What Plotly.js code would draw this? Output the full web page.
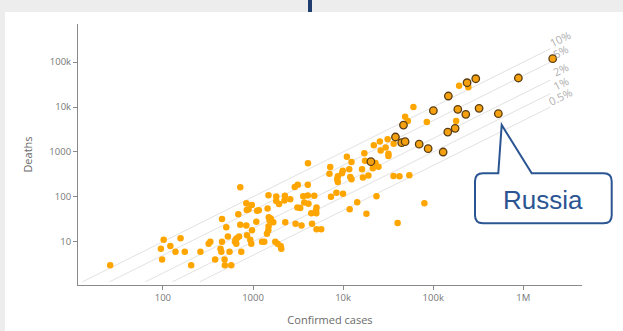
<!DOCTYPE html>
<html>
<head>
<meta charset="utf-8">
<script src="https://cdn.plot.ly/plotly-3.0.1.min.js"></script>
<style>
  html, body { margin: 0; padding: 0; background: #ffffff; }
  #chart { width: 623px; height: 331px; }
</style>
</head>
<body>
<div id="chart"></div>
<script>
// ---- Data ----
const cases = [
  26, 102, 157, 95, 121, 138, 175, 98, 206, 261, 322, 336, 380, 453, 505, 453, 436, 445, 526, 549,
  484, 487, 574, 722, 843, 970, 687, 853, 893, 1107, 1159, 722, 843, 1088, 975, 858, 700, 661, 641, 631,
  653, 957, 741, 933, 1259, 1334, 1766, 1874, 2025, 2060, 1429, 1489, 1479, 1497, 1575, 1528, 1679, 2280, 2965, 3456,
  4520, 5070, 5715, 1452, 1486, 1812, 2258, 1812, 1946, 2233, 2591, 3613, 4055, 4786, 3707, 4125, 3110, 3342, 5070, 5010,
  5040, 4430, 3140, 2905, 4055, 4075, 7194, 7047, 8430, 9980, 7330, 11830, 14330, 23450, 18150, 40270, 11010, 12390, 11690, 9910,
  9710, 8740, 8600, 8740, 12000, 12390, 16600, 19070, 17200, 17500, 22860, 24680, 21380, 16220, 36220, 42200, 54300, 79800, 21930, 25560,
  31220, 36390, 29660, 26120, 31840, 31840, 60250, 48740, 52240, 84900, 179500, 193800, 245500
];
const deaths = [
  3, 11, 12, 7, 8, 6, 6, 4, 3, 6, 9, 10, 4, 32, 21, 10, 7, 6, 13, 6,
  4, 3, 3, 163, 72, 66, 41, 51, 53, 49, 50, 24, 23, 28, 18, 14, 13, 12, 11, 10,
  9, 9, 6, 11, 10, 10, 10, 9, 8, 7, 15, 22, 18, 35, 33, 30, 27, 27, 25, 23,
  25, 19, 19, 55, 109, 102, 106, 81, 69, 83, 88, 103, 107, 106, 75, 70, 58, 56, 58, 50,
  43, 43, 185, 165, 185, 557, 461, 325, 123, 117, 100, 53, 76, 103, 42, 26, 782, 596, 409, 381,
  334, 286, 245, 214, 276, 245, 269, 298, 931, 637, 566, 468, 433, 412, 290, 288, 301, 72, 1409, 1706,
  1920, 1515, 1254, 1075, 907, 811, 10000, 6083, 4872, 4630, 4872, 29790, 27480
];

// Highlighted (outlined) countries
const hlCases  = [2118000, 881000, 296500, 237500, 147200, 100400, 187500, 322700, 229800, 528000,
                  46740, 38110, 44670, 48750, 69850, 87800, 145100, 175000, 128800, 20330];
const hlDeaths = [119100, 44260, 42660, 34750, 17580, 8280, 8900, 9360, 6870, 7100,
                  3970, 2150, 1603, 1687, 1485, 1178, 2773, 3356, 995, 605];

// Case-fatality reference lines
const rates = [0.1, 0.05, 0.02, 0.01, 0.005];
const rateLabels = ['10%', '5%', '2%', '1%', '0.5%'];

// Axis ticks
const xTickVals = [100, 1000, 10000, 100000, 1000000];
const xTickText = ['100', '1000', '10k', '100k', '1M'];
const yTickVals = [10, 100, 1000, 10000, 100000];
const yTickText = ['10', '100', '1000', '10k', '100k'];

const calloutLabel = 'Russia';

// ---- Layout geometry (pixels of the 623x331 picture) ----
const W = 623, H = 331;
const M = { l: 78, r: 41, t: 24, b: 46 };
const PL = M.l, PR = W - M.r, PT = M.t, PB = H - M.b;
const fx = x => (x - PL) / (PR - PL);
const fy = y => (PB - y) / (PB - PT);
const P = (x, y) => fx(x).toFixed(5) + ',' + fy(y).toFixed(5);

const lineStartDeaths = 1.28;
const lineEndCases = 2e6;

const traces = [];
rates.forEach((r) => {
  traces.push({
    x: [lineStartDeaths / r, lineEndCases],
    y: [lineStartDeaths, lineEndCases * r],
    mode: 'lines',
    line: { color: '#e2e2e2', width: 1 },
    hoverinfo: 'skip',
    showlegend: false
  });
});
traces.push({
  x: cases, y: deaths, mode: 'markers', type: 'scatter',
  marker: { color: '#FFA500', size: 6.5, line: { width: 0 } },
  showlegend: false
});
traces.push({
  x: hlCases, y: hlDeaths, mode: 'markers', type: 'scatter',
  marker: { color: '#F5A10F', size: 7.5, line: { color: '#5a3d14', width: 1.3 } },
  showlegend: false
});

const annotations = rates.map((r, i) => ({
  x: Math.log10(lineEndCases), y: Math.log10(lineEndCases * r),
  xref: 'x', yref: 'y', text: rateLabels[i], showarrow: false,
  textangle: -26.6, xshift: 10, yshift: 10.5,
  font: { family: 'Open Sans', size: 11, color: '#b0b0b0' }
}));
annotations.push({
  xref: 'paper', yref: 'paper', x: fx(543.3), y: fy(199.5),
  xanchor: 'center', yanchor: 'middle', showarrow: false,
  text: calloutLabel,
  font: { family: 'Liberation Sans, Arial, sans-serif', size: 26, color: '#2b5592' }
});

const calloutPath = 'M ' + P(498.3, 173.3) + ' L ' + P(501.7, 125) + ' L ' + P(531.7, 173.3) +
  ' L ' + P(603.7, 173.3) + ' Q ' + P(611.7, 173.3) + ' ' + P(611.7, 181.3) +
  ' L ' + P(611.7, 215.3) + ' Q ' + P(611.7, 223.3) + ' ' + P(603.7, 223.3) +
  ' L ' + P(483, 223.3) + ' Q ' + P(475, 223.3) + ' ' + P(475, 215.3) +
  ' L ' + P(475, 181.3) + ' Q ' + P(475, 173.3) + ' ' + P(483, 173.3) + ' Z';

const shapes = [
  { type: 'rect', xref: 'paper', yref: 'paper', x0: fx(0), x1: fx(W), y0: fy(0), y1: fy(12),
    fillcolor: '#ededed', line: { width: 0 }, layer: 'below' },
  { type: 'rect', xref: 'paper', yref: 'paper', x0: fx(0), x1: fx(5), y0: fy(12), y1: fy(H),
    fillcolor: '#ededed', line: { width: 0 }, layer: 'below' },
  { type: 'rect', xref: 'paper', yref: 'paper', x0: fx(308), x1: fx(312), y0: fy(0), y1: fy(12),
    fillcolor: '#1f3d6e', line: { width: 0 } },
  { type: 'path', xref: 'paper', yref: 'paper', path: calloutPath,
    fillcolor: '#ffffff', line: { color: '#2b5592', width: 2 } }
];

const axisCommon = {
  type: 'log', showline: true, linecolor: '#8a8a8a', linewidth: 1,
  ticks: 'outside', ticklen: 4, tickcolor: '#8a8a8a', tickwidth: 1,
  showgrid: false, zeroline: false, automargin: false,
  tickfont: { family: 'Open Sans', size: 9.5, color: '#777777' }
};

const layout = {
  width: W, height: H,
  margin: M,
  paper_bgcolor: '#ffffff', plot_bgcolor: '#ffffff',
  font: { family: 'Open Sans' },
  showlegend: false,
  xaxis: Object.assign({}, axisCommon, {
    range: [1.058, 6.651],
    tickvals: xTickVals, ticktext: xTickText,
    title: { text: 'Confirmed cases', font: { family: 'Open Sans', size: 11, color: '#6a6a6a' }, standoff: 12 }
  }),
  yaxis: Object.assign({}, axisCommon, {
    range: [0.036, 5.849],
    tickvals: yTickVals, ticktext: yTickText,
    title: { text: 'Deaths', font: { family: 'Open Sans', size: 11, color: '#6a6a6a' }, standoff: 14 }
  }),
  annotations: annotations,
  shapes: shapes
};

Plotly.newPlot('chart', traces, layout, { displayModeBar: false, staticPlot: true });
</script>
</body>
</html>
